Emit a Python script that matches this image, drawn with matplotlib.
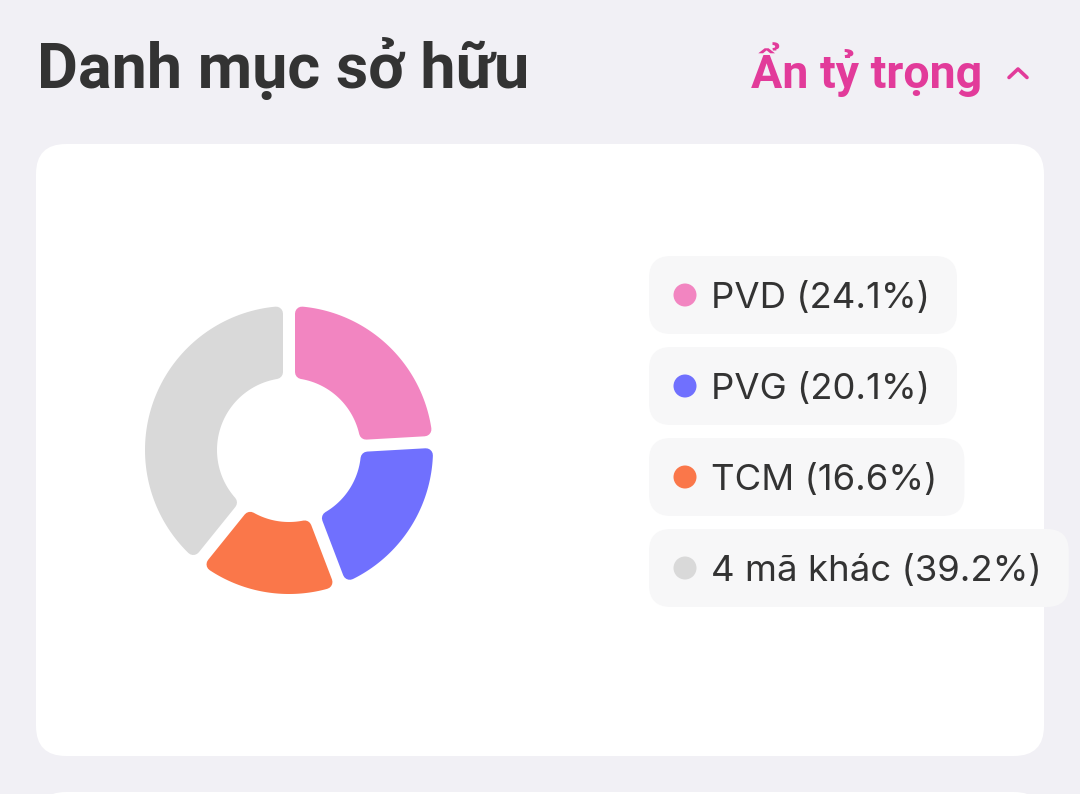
import math
import matplotlib
matplotlib.use("Agg")
import matplotlib.pyplot as plt
from matplotlib.patches import FancyBboxPatch, Polygon, Circle

# ---- data ----
title = "Danh mục sở hữu"
toggle_label = "Ẩn tỷ trọng"
labels = ["PVD", "PVG", "TCM", "4 mã khác"]
shares = [24.1, 20.1, 16.6, 39.2]
colors = ["#f285c1", "#7070fe", "#fa774a", "#d9d9d9"]

plt.rcParams["font.family"] = ["Roboto", "DejaVu Sans"]

W, H = 1080, 794
fig = plt.figure(figsize=(W / 100, H / 100), dpi=100)
fig.patch.set_facecolor("#f1f0f5")
ax = fig.add_axes([0, 0, 1, 1])
ax.set_xlim(0, W)
ax.set_ylim(H, 0)
ax.set_aspect("equal")
ax.axis("off")

PX = 0.72  # points per pixel at dpi 100

# cards
ax.add_patch(FancyBboxPatch((36, 144), 1008, 612,
                            boxstyle="round,pad=0,rounding_size=30",
                            fc="white", ec="none"))
ax.add_patch(FancyBboxPatch((36, 792), 1008, 120,
                            boxstyle="round,pad=0,rounding_size=30",
                            fc="white", ec="none"))

# header
ax.text(37, 88, title, fontsize=45.3, fontweight="bold",
        color="#333333", va="baseline", ha="left")
ax.text(751, 88, toggle_label, fontsize=33.5, fontweight="bold",
        color="#e23b9a", va="baseline", ha="left")
ax.plot([1009, 1018, 1027], [77.5, 69, 77.5], color="#e23b9a", lw=3.6 * PX,
        solid_capstyle="round", solid_joinstyle="round")

# donut
cx, cy = 289, 450
ro, ri = 144, 72
gap, cr = 12, 7
total = sum(shares)


def sector(a1, a2):
    Ro, Ri = ro - cr, ri + cr
    d = gap / 2 + cr
    do, di = math.asin(d / Ro), math.asin(d / Ri)
    pts = []
    n = 80
    for k in range(n + 1):
        a = (a1 + do) + (a2 - a1 - 2 * do) * k / n
        pts.append((cx + Ro * math.sin(a), cy - Ro * math.cos(a)))
    for k in range(n + 1):
        a = (a2 - di) - (a2 - a1 - 2 * di) * k / n
        pts.append((cx + Ri * math.sin(a), cy - Ri * math.cos(a)))
    return pts


start = 0.0
for s, c in zip(shares, colors):
    a1 = start
    a2 = start + 2 * math.pi * s / total
    ax.add_patch(Polygon(sector(a1, a2), closed=True, fc=c, ec=c,
                         lw=2 * cr * PX, joinstyle="round"))
    start = a2

# legend pills
fig.canvas.draw()
r = fig.canvas.get_renderer()
pill_top0, pill_h, pill_step = 256, 78, 91
for i, (lab, s, c) in enumerate(zip(labels, shares, colors)):
    top = pill_top0 + i * pill_step
    mid = top + pill_h / 2
    t = ax.text(711, mid + 12.8, f"{lab} ({s}%)", fontsize=26.3,
                family=["Inter", "DejaVu Sans"],
                color="#333333", va="baseline", ha="left", zorder=3)
    bb = t.get_window_extent(renderer=r)
    right = bb.x1 + 27
    ax.add_patch(FancyBboxPatch((649, top), right - 649, pill_h,
                                boxstyle="round,pad=0,rounding_size=22",
                                fc="#f7f7f8", ec="none", zorder=2))
    ax.add_patch(Circle((685, mid), 11.5, fc=c, ec="none", zorder=3))

fig.savefig("out.png", dpi=100, facecolor=fig.get_facecolor())
